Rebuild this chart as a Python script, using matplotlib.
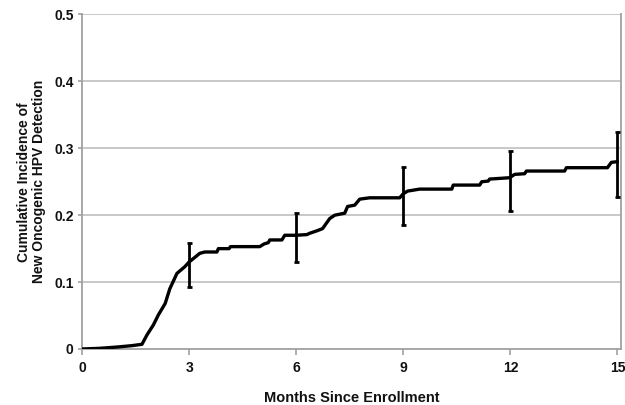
import matplotlib.pyplot as plt

plt.rcParams['font.family'] = ['Liberation Sans', 'DejaVu Sans']
plt.rcParams['font.weight'] = 'bold'

# step curve
months = [0, 0.5, 1.0, 1.4, 1.68, 1.82, 2.0, 2.14, 2.33, 2.46, 2.66, 2.88, 3.0,
          3.3, 3.44, 3.78, 3.82, 4.12, 4.16, 4.98, 5.1, 5.22, 5.26, 5.6, 5.68,
          6.0, 6.3, 6.38, 6.6, 6.74, 6.94, 7.08, 7.36, 7.44, 7.64, 7.78, 8.06,
          8.9, 9.0, 9.12, 9.46, 10.36, 10.4, 11.14, 11.2, 11.38, 11.42, 11.98,
          12.12, 12.4, 12.45, 13.52, 13.57, 14.72, 14.83, 15.0]
incidence = [0, 0.001, 0.003, 0.005, 0.007, 0.021, 0.036, 0.051, 0.068, 0.09,
             0.113, 0.123, 0.13, 0.143, 0.145, 0.145, 0.150, 0.150, 0.153, 0.153,
             0.157, 0.159, 0.163, 0.163, 0.170, 0.170, 0.171, 0.173, 0.177, 0.180,
             0.195, 0.200, 0.203, 0.213, 0.215, 0.224, 0.226, 0.226, 0.232, 0.236,
             0.239, 0.239, 0.245, 0.245, 0.250, 0.251, 0.254, 0.256, 0.261, 0.262,
             0.266, 0.266, 0.271, 0.271, 0.279, 0.280]

# confidence intervals at the marked months
ci_months = [3, 6, 9, 12, 15]
ci_mid = [0.130, 0.170, 0.232, 0.257, 0.280]
ci_low = [0.093, 0.130, 0.185, 0.206, 0.227]
ci_high = [0.158, 0.203, 0.272, 0.296, 0.324]

fig = plt.figure(figsize=(6.25, 4.05), dpi=100)
ax = fig.add_axes([0.1312, 0.1383, 0.8624, 0.8259])

for y in [0.1, 0.2, 0.3, 0.4, 0.5]:
    ax.axhline(y, color='#c4c4c4', lw=1.3, zorder=0)

ax.plot(months, incidence, color='black', lw=2.4, solid_joinstyle='round',
        solid_capstyle='round', zorder=3)

yerr = [[m - l for m, l in zip(ci_mid, ci_low)],
        [h - m for m, h in zip(ci_mid, ci_high)]]
ax.errorbar(ci_months, ci_mid, yerr=yerr, fmt='none', ecolor='black',
            elinewidth=2.0, capsize=1.8, capthick=2.0, zorder=4)

ax.set_xlim(0, 15.1)
ax.set_ylim(0, 0.5)
ax.set_xticks([0, 3, 6, 9, 12, 15])
ax.set_yticks([0, 0.1, 0.2, 0.3, 0.4, 0.5])
ax.set_yticklabels(['0', '0.1', '0.2', '0.3', '0.4', '0.5'])

for side in ['left', 'bottom', 'right']:
    ax.spines[side].set_color('#a0a0a0')
    ax.spines[side].set_linewidth(1.3)
ax.spines['top'].set_visible(False)

ax.tick_params(axis='both', colors='#a0a0a0', labelcolor='#111111',
               labelsize=10, width=1.2)
ax.tick_params(axis='x', length=4, pad=5)
ax.tick_params(axis='y', length=3, pad=3)

ax.set_xlabel('Months Since Enrollment', fontsize=10.5, fontweight='bold',
              color='#111111', labelpad=11)
ax.set_ylabel('Cumulative Incidence of\nNew Oncogenic HPV Detection',
              fontsize=10, fontweight='bold', color='#111111', labelpad=6,
              linespacing=1.05)

fig.savefig('out.png', dpi=100)
